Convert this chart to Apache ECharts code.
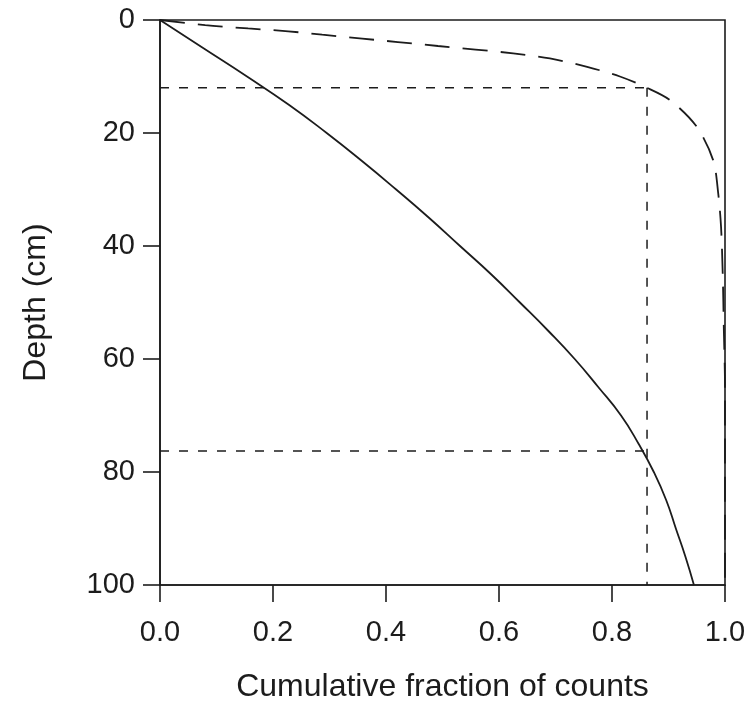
<!DOCTYPE html>
<html>
<head>
<meta charset="utf-8">
<script src="https://cdn.jsdelivr.net/npm/echarts@6/dist/echarts.min.js"></script>
<style>
  html, body { margin: 0; padding: 0; background: #fff; }
  #chart { width: 755px; height: 702px; }
</style>
</head>
<body>
<div id="chart"></div>
<script>
// solid curve: cumulative fraction vs depth
const solidFrac = [0, 0.077, 0.154, 0.228, 0.295, 0.358, 0.418, 0.476, 0.531, 0.586, 0.637, 0.687, 0.734, 0.776, 0.816, 0.847, 0.874, 0.896, 0.913, 0.930, 0.945]
const solidDepth = [0, 5, 10, 15, 20, 25, 30, 35, 40, 45, 50, 55, 60, 65, 70, 75, 80, 85, 90, 95, 100]
// dashed curve
const dashFrac = [0, 0.08, 0.156, 0.227, 0.287, 0.358, 0.421, 0.492, 0.625, 0.690, 0.756, 0.814, 0.862, 0.903, 0.950, 0.979, 0.988, 0.993, 0.996, 0.998, 1.0, 1.0]
const dashDepth = [0, 0.9, 1.5, 2.0, 2.6, 3.3, 3.9, 4.6, 5.9, 6.8, 8.3, 10.0, 12.0, 14.2, 18.9, 24.8, 30.7, 36.6, 45, 55, 65, 100]
// reference guides
const refFrac = 0.862
const refDepths = [12, 76.3]
const depthMax = 100

const pair = (xs, ys) => xs.map((x, i) => [x, ys[i]])
const font = '"Liberation Sans", Arial, sans-serif'
const ink = '#1c1c1c'

const guideStyle = { color: ink, width: 1.5, type: [9, 10] }
const guideSeries = refDepths.map((d) => ({
  type: 'line',
  data: [[0, d], [refFrac, d]],
  symbol: 'none',
  lineStyle: guideStyle,
  silent: true
}))
guideSeries.push({
  type: 'line',
  data: [[refFrac, refDepths[0]], [refFrac, depthMax]],
  symbol: 'none',
  lineStyle: guideStyle,
  silent: true
})

const option = {
  animation: false,
  grid: {
    left: 160,
    right: 30,
    top: 20,
    bottom: 117,
    outerBoundsMode: 'none',
    containLabel: false,
    show: true,
    borderColor: ink,
    borderWidth: 1.6
  },
  xAxis: {
    type: 'value',
    min: 0,
    max: 1,
    interval: 0.2,
    name: 'Cumulative fraction of counts',
    nameLocation: 'middle',
    nameGap: 86,
    nameTextStyle: { color: ink, fontSize: 32, fontFamily: font },
    axisLine: { show: true, onZero: false, lineStyle: { color: ink, width: 1.6 } },
    axisTick: { show: true, length: 17, lineStyle: { color: ink, width: 1.6 } },
    axisLabel: {
      color: ink,
      fontSize: 29,
      fontFamily: font,
      margin: 33,
      formatter: (v) => v.toFixed(1)
    },
    splitLine: { show: false }
  },
  yAxis: {
    type: 'value',
    inverse: true,
    min: 0,
    max: 100,
    interval: 20,
    name: 'Depth (cm)',
    nameLocation: 'middle',
    nameGap: 108,
    nameTextStyle: { color: ink, fontSize: 32, fontFamily: font },
    axisLine: { show: true, onZero: false, lineStyle: { color: ink, width: 1.6 } },
    axisTick: { show: true, length: 17, lineStyle: { color: ink, width: 1.6 } },
    axisLabel: { color: ink, fontSize: 29, fontFamily: font, margin: 25 },
    splitLine: { show: false }
  },
  series: [
    {
      type: 'line',
      data: pair(solidFrac, solidDepth),
      symbol: 'none',
      smooth: true,
      lineStyle: { color: ink, width: 1.8 },
      silent: true
    },
    {
      type: 'line',
      data: pair(dashFrac, dashDepth),
      symbol: 'none',
      smooth: 0.3,
      lineStyle: { color: ink, width: 1.8, type: [25, 13] },
      silent: true
    },
    ...guideSeries
  ]
}

const myChart = echarts.init(document.getElementById('chart'))
myChart.setOption(option)
</script>
</body>
</html>
